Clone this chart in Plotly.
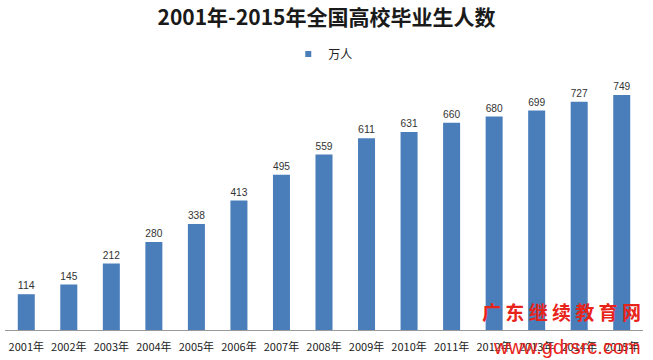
import plotly.graph_objects as go

years = ["2001年","2002年","2003年","2004年","2005年","2006年","2007年","2008年",
         "2009年","2010年","2011年","2012年","2013年","2014年","2015年"]
graduates = [114,145,212,280,338,413,495,559,611,631,660,680,699,727,749]
series_name = "万人"
bar_color = "#4A7EBB"

fig = go.Figure()
fig.add_trace(go.Bar(
    x=years, y=graduates, name=series_name, showlegend=False,
    marker=dict(color=bar_color, line=dict(width=0)),
    text=[str(v) for v in graduates], textposition="outside",
    textfont=dict(size=11, color="#333333", family="Liberation Sans, Noto Sans CJK SC"),
    cliponaxis=False,
))
# legend entry with a small square swatch, as in the reference
fig.add_trace(go.Scatter(
    x=[None], y=[None], mode="markers", name=series_name,
    marker=dict(symbol="square", size=6, color=bar_color),
))

fig.update_layout(
    width=653, height=360,
    paper_bgcolor="white", plot_bgcolor="white",
    margin=dict(l=5, r=10, t=40, b=30, autoexpand=False),
    bargap=0.6,
    showlegend=True,
    title=dict(text="<b>2001年-2015年全国高校毕业生人数</b>", x=0.5, xanchor="center",
               y=0.95, yanchor="middle",
               font=dict(size=21, color="#1a1a1a", family="Liberation Sans Narrow, Noto Sans CJK SC")),
    legend=dict(orientation="h", x=0.444, xanchor="left", y=0.952, yanchor="middle",
                font=dict(size=12, color="#222222", family="Noto Sans CJK SC"),
                itemwidth=30, bgcolor="rgba(0,0,0,0)"),
    xaxis=dict(showline=True, linecolor="#999999", linewidth=1,
               ticks="outside", ticklen=7, tickcolor="rgba(0,0,0,0)",
               tickfont=dict(size=11, color="#222222", family="Liberation Sans Narrow, Noto Sans CJK SC")),
    yaxis=dict(visible=False, range=[0, 924]),
)

fig.add_annotation(text="<b>广 东 继 续 教 育 网</b>", xref="paper", yref="paper",
                   x=1.0, y=0.01, xanchor="right", yanchor="bottom", showarrow=False,
                   font=dict(size=19, color="#E8231A", family="Noto Sans CJK SC"))
fig.add_annotation(text="www.gdrsrc.com", xref="paper", yref="paper",
                   x=1.0, y=-0.06, xanchor="right", yanchor="middle", showarrow=False,
                   font=dict(size=20, color="#E8231A", family="Liberation Sans"))

fig.write_html("out.html", config={"displayModeBar": False},
               post_script="document.body.style.margin='0';document.body.style.overflow='hidden';")
